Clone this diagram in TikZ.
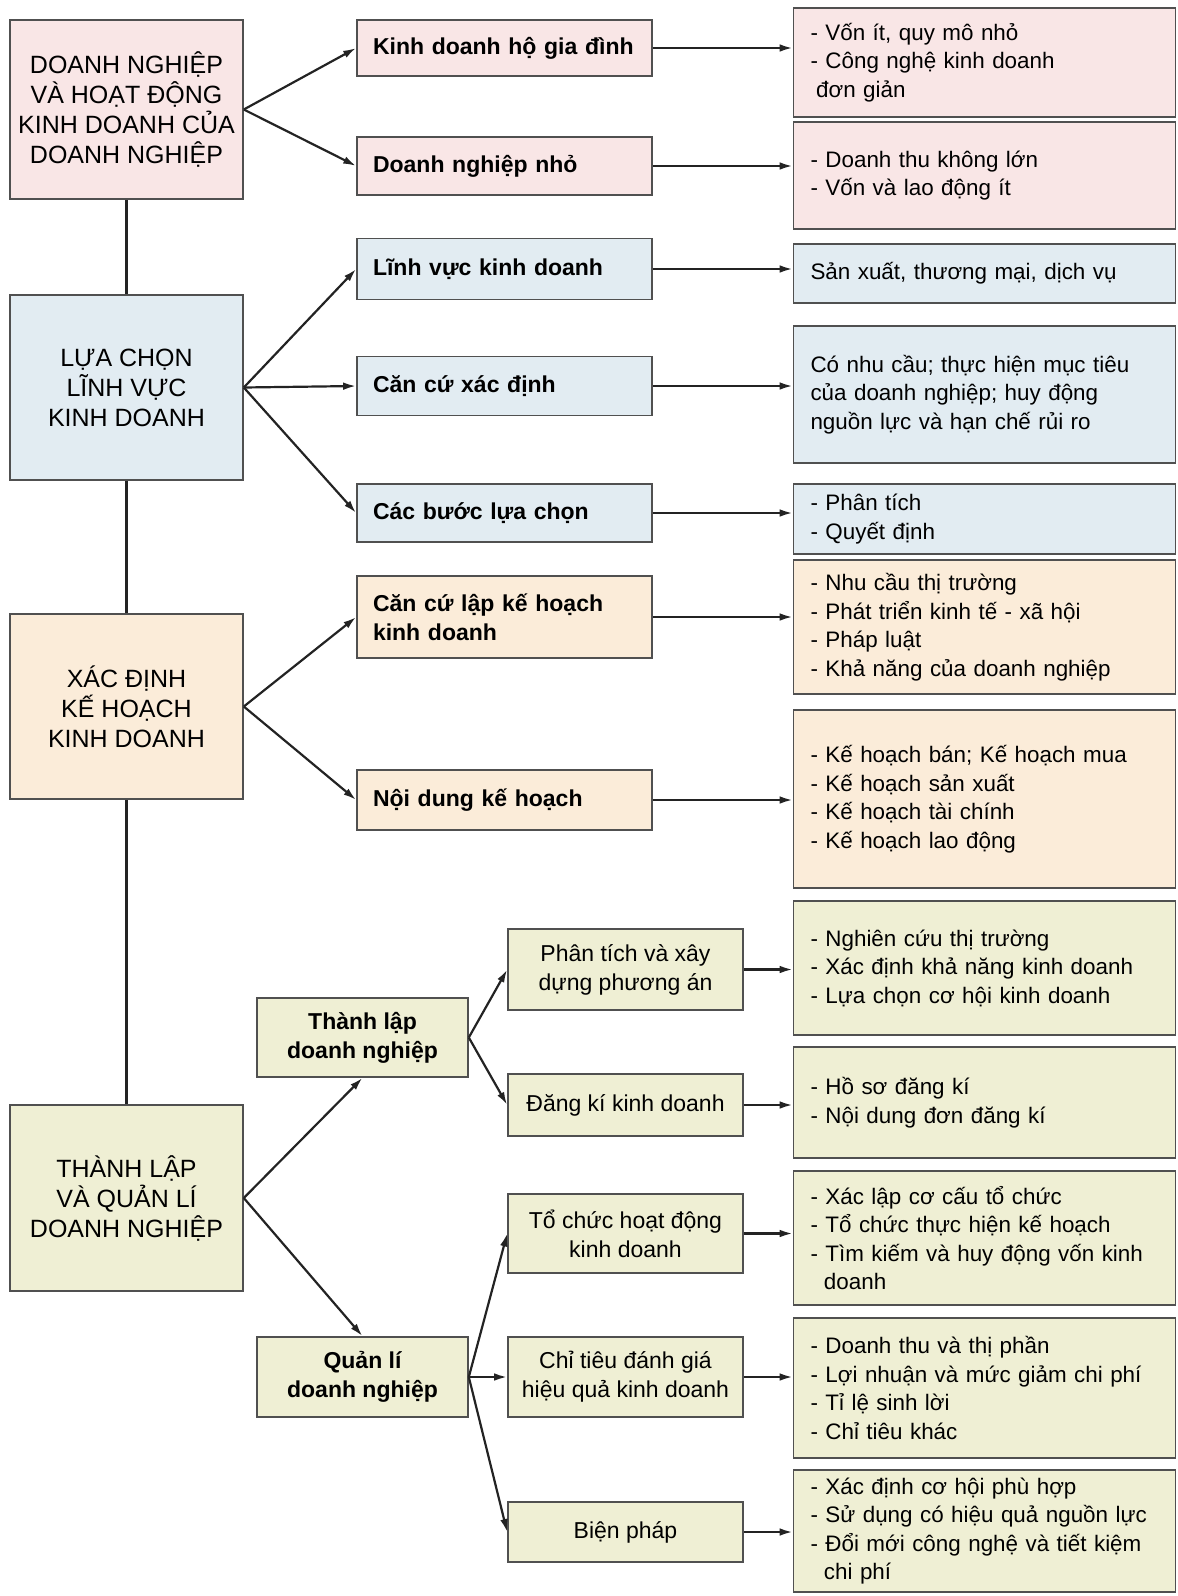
\documentclass[tikz,border=0pt]{standalone}
\usepackage{fontspec}
\setmainfont{Liberation Sans}
\usepackage{xcolor}
\usepackage{tikz}
\usetikzlibrary{arrows.meta, positioning, calc}
\definecolor{pinkbg}{RGB}{249,230,230}
\definecolor{bluebg}{RGB}{226,236,242}
\definecolor{orangebg}{RGB}{251,236,217}
\definecolor{olivebg}{RGB}{239,239,212}
\definecolor{edge}{RGB}{80,80,80}
\definecolor{wire}{RGB}{35,35,35}

\begin{document}
\begin{tikzpicture}[
   x=0.5pt, y=-0.5pt,
   box/.style={draw=edge, line width=0.8pt, inner ysep=3pt},
   head/.style={box, minimum width=116.5pt, align=center,
                font=\fontsize{12.5}{15}\selectfont},
   topic/.style={box, text width=131.5pt, inner xsep=8pt, align=left,
                 font=\bfseries\fontsize{11.5}{14.5}\selectfont},
   sub/.style={box, minimum width=105.5pt, align=center,
               font=\bfseries\fontsize{11.5}{14.5}\selectfont},
   subsub/.style={box, minimum width=117.5pt, align=center,
                  font=\fontsize{11.5}{14.5}\selectfont},
   info/.style={box, text width=174pt, inner xsep=8.5pt, align=left,
                font=\fontsize{11.2}{14.25}\selectfont},
   arr/.style={-{Latex[length=6.5pt, width=3.8pt]}, line width=1.1pt, draw=wire},
   link/.style={line width=1.1pt, draw=wire}]

  \useasboundingbox (0,0) rectangle (1178,1596);

  % left column
  \node[head, fill=pinkbg, minimum height=89.5pt] (dn) at (126.5,109.5)
       {DOANH NGHIỆP\\VÀ HOẠT ĐỘNG\\KINH DOANH CỦA\\DOANH NGHIỆP};
  \node[head, fill=bluebg, minimum height=92.5pt] (lc) at (126.5,387.5)
       {LỰA CHỌN\\LĨNH VỰC\\KINH DOANH};
  \node[head, fill=orangebg, minimum height=92.5pt] (kh) at (126.5,706.5)
       {XÁC ĐỊNH\\KẾ HOẠCH\\KINH DOANH};
  \node[head, fill=olivebg, minimum height=93pt] (ql) at (126.5,1198)
       {THÀNH LẬP\\VÀ QUẢN LÍ\\DOANH NGHIỆP};

  % middle column
  \node[topic, fill=pinkbg, minimum height=28pt] (hgd) at (504.5,48) {Kinh doanh hộ gia đình};
  \node[topic, fill=pinkbg, minimum height=29pt] (dnn) at (504.5,166) {Doanh nghiệp nhỏ};
  \node[topic, fill=bluebg, minimum height=30.5pt] (lv) at (504.5,269) {Lĩnh vực kinh doanh};
  \node[topic, fill=bluebg, minimum height=29.5pt] (cc) at (504.5,386) {Căn cứ xác định};
  \node[topic, fill=bluebg, minimum height=29pt] (cb) at (504.5,513) {Các bước lựa chọn};
  \node[topic, fill=orangebg, minimum height=41pt] (cl) at (504.5,617) {Căn cứ lập kế hoạch\\kinh doanh};
  \node[topic, fill=orangebg, minimum height=30pt] (nd) at (504.5,800) {Nội dung kế hoạch};

  \node[sub, fill=olivebg, minimum height=39.5pt] (tlp) at (362.5,1037.5) {Thành lập\\doanh nghiệp};
  \node[sub, fill=olivebg, minimum height=40pt] (qli) at (362.5,1377) {Quản lí\\doanh nghiệp};

  \node[subsub, fill=olivebg, minimum height=40.5pt] (pt) at (625.5,969.5) {Phân tích và xây\\dựng phương án};
  \node[subsub, fill=olivebg, minimum height=31pt] (dk) at (625.5,1105) {Đăng kí kinh doanh};
  \node[subsub, fill=olivebg, minimum height=39.5pt] (tc) at (625.5,1233.5) {Tổ chức hoạt động\\kinh doanh};
  \node[subsub, fill=olivebg, minimum height=40pt] (ct) at (625.5,1377) {Chỉ tiêu đánh giá\\hiệu quả kinh doanh};
  \node[subsub, fill=olivebg, minimum height=30pt] (bp) at (625.5,1532) {Biện pháp};

  % right column
  \node[info, fill=pinkbg, minimum height=54.5pt] (hgdx) at (984.5,62.5)
       {- Vốn ít, quy mô nhỏ\\- Công nghệ kinh doanh\\\hspace*{0.25em}đơn giản};
  \node[info, fill=pinkbg, minimum height=53.5pt] (dnnx) at (984.5,175.5)
       {- Doanh thu không lớn\\- Vốn và lao động ít};
  \node[info, fill=bluebg, minimum height=29.5pt] (lvx) at (984.5,273.5)
       {Sản xuất, thương mại, dịch vụ};
  \node[info, fill=bluebg, minimum height=68.5pt] (ccx) at (984.5,394.5)
       {Có nhu cầu; thực hiện mục tiêu\\của doanh nghiệp; huy động\\nguồn lực và hạn chế rủi ro};
  \node[info, fill=bluebg, minimum height=35pt] (cbx) at (984.5,519)
       {- Phân tích\\- Quyết định};
  \node[info, fill=orangebg, minimum height=67pt] (clx) at (984.5,627)
       {- Nhu cầu thị trường\\- Phát triển kinh tế - xã hội\\- Pháp luật\\- Khả năng của doanh nghiệp};
  \node[info, fill=orangebg, minimum height=89pt] (ndx) at (984.5,799)
       {- Kế hoạch bán; Kế hoạch mua\\- Kế hoạch sản xuất\\- Kế hoạch tài chính\\- Kế hoạch lao động};
  \node[info, fill=olivebg, minimum height=67pt] (ptx) at (984.5,968)
       {- Nghiên cứu thị trường\\- Xác định khả năng kinh doanh\\- Lựa chọn cơ hội kinh doanh};
  \node[info, fill=olivebg, minimum height=55.5pt] (dkx) at (984.5,1102.5)
       {- Hồ sơ đăng kí\\- Nội dung đơn đăng kí};
  \node[info, fill=olivebg, minimum height=67pt] (tcx) at (984.5,1238)
       {- Xác lập cơ cấu tổ chức\\- Tổ chức thực hiện kế hoạch\\- Tìm kiếm và huy động vốn kinh\\\hspace*{0.6em}doanh};
  \node[info, fill=olivebg, minimum height=70pt] (ctx) at (984.5,1388)
       {- Doanh thu và thị phần\\- Lợi nhuận và mức giảm chi phí\\- Tỉ lệ sinh lời\\- Chỉ tiêu khác};
  \node[info, fill=olivebg, minimum height=61pt] (bpx) at (984.5,1531)
       {- Xác định cơ hội phù hợp\\- Sử dụng có hiệu quả nguồn lực\\- Đổi mới công nghệ và tiết kiệm\\\hspace*{0.6em}chi phí};

  % spine
  \draw[link] (dn) -- (lc);
  \draw[link] (lc) -- (kh);
  \draw[link] (kh) -- (ql);

  % fans
  \draw[arr] (dn.east) -- (hgd.west);
  \draw[arr] (dn.east) -- (dnn.west);
  \draw[arr] (lc.east) -- (lv.west);
  \draw[arr] (lc.east) -- (cc.west);
  \draw[arr] (lc.east) -- (cb.west);
  \draw[arr] (kh.east) -- (cl.west);
  \draw[arr] (kh.east) -- (nd.west);
  \draw[arr] (ql.east) -- (tlp.south);
  \draw[arr] (ql.east) -- (qli.north);
  \draw[arr] (tlp.east) -- (pt.west);
  \draw[arr] (tlp.east) -- (dk.west);
  \draw[arr] (qli.east) -- (tc.west);
  \draw[arr] (qli.east) -- (ct.west);
  \draw[arr] (qli.east) -- (bp.west);

  % to the details
  \draw[arr] (hgd.east) -- (hgd.east -| hgdx.west);
  \draw[arr] (dnn.east) -- (dnn.east -| dnnx.west);
  \draw[arr] (lv.east) -- (lv.east -| lvx.west);
  \draw[arr] (cc.east) -- (cc.east -| ccx.west);
  \draw[arr] (cb.east) -- (cb.east -| cbx.west);
  \draw[arr] (cl.east) -- (cl.east -| clx.west);
  \draw[arr] (nd.east) -- (nd.east -| ndx.west);
  \draw[arr] (pt.east) -- (pt.east -| ptx.west);
  \draw[arr] (dk.east) -- (dk.east -| dkx.west);
  \draw[arr] (tc.east) -- (tc.east -| tcx.west);
  \draw[arr] (ct.east) -- (ct.east -| ctx.west);
  \draw[arr] (bp.east) -- (bp.east -| bpx.west);
\end{tikzpicture}
\end{document}
